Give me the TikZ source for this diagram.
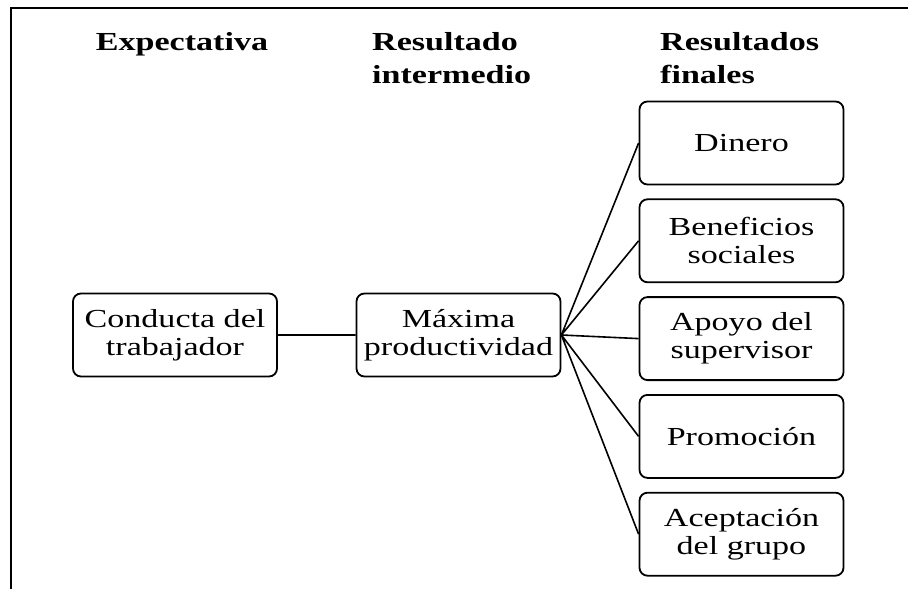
\documentclass[tikz,border=0pt]{standalone}
\usepackage{fontspec}
\setmainfont{Liberation Serif}[FakeStretch=1.31]
\usetikzlibrary{positioning}

\tikzset{
    cuadro/.style={draw, line width=1.8pt, rounded corners=8pt,
        minimum width=204pt, minimum height=83pt, inner sep=2pt,
        align=center, font=\fontsize{26}{28}\selectfont},
    titulo/.style={inner sep=0pt, align=left,
        font=\bfseries\fontsize{26}{33}\selectfont}
}

\begin{document}
\begin{tikzpicture}[x=1pt,y=-1pt]
        \useasboundingbox (0,0) rectangle (908,589);
        \draw[line width=2pt]
            (908,8) -- (11,8) -- (11,589)
            ;

        \node[titulo, anchor=north] (expectativa) at (182,32) {Expectativa};
        \node[titulo, anchor=north west] (intermedio) at (372,32) {Resultado\\intermedio};
        \node[titulo, anchor=north west] (finales) at (660,32) {Resultados\\finales};

        \node[cuadro] (conducta) at (175,335) {Conducta del\\trabajador};
        \node[cuadro] (maxima) at (458.5,335) {Máxima\\productividad};

        \node[cuadro] (dinero) at (741.5,143) {Dinero};
        \node[cuadro, below=13pt of dinero] (beneficios) {Beneficios\\sociales};
        \node[cuadro, below=13pt of beneficios] (apoyo) {Apoyo del\\supervisor};
        \node[cuadro, below=13pt of apoyo] (promocion) {Promoción};
        \node[cuadro, below=13pt of promocion] (aceptacion) {Aceptación\\del grupo};

        \draw[line width=1.6pt]
            (conducta) -- (maxima)
            (maxima.east) -- (dinero.west)
            (maxima.east) -- (beneficios.west)
            (maxima.east) -- (apoyo.west)
            (maxima.east) -- (promocion.west)
            (maxima.east) -- (aceptacion.west)
            ;
    \end{tikzpicture}
\end{document}
